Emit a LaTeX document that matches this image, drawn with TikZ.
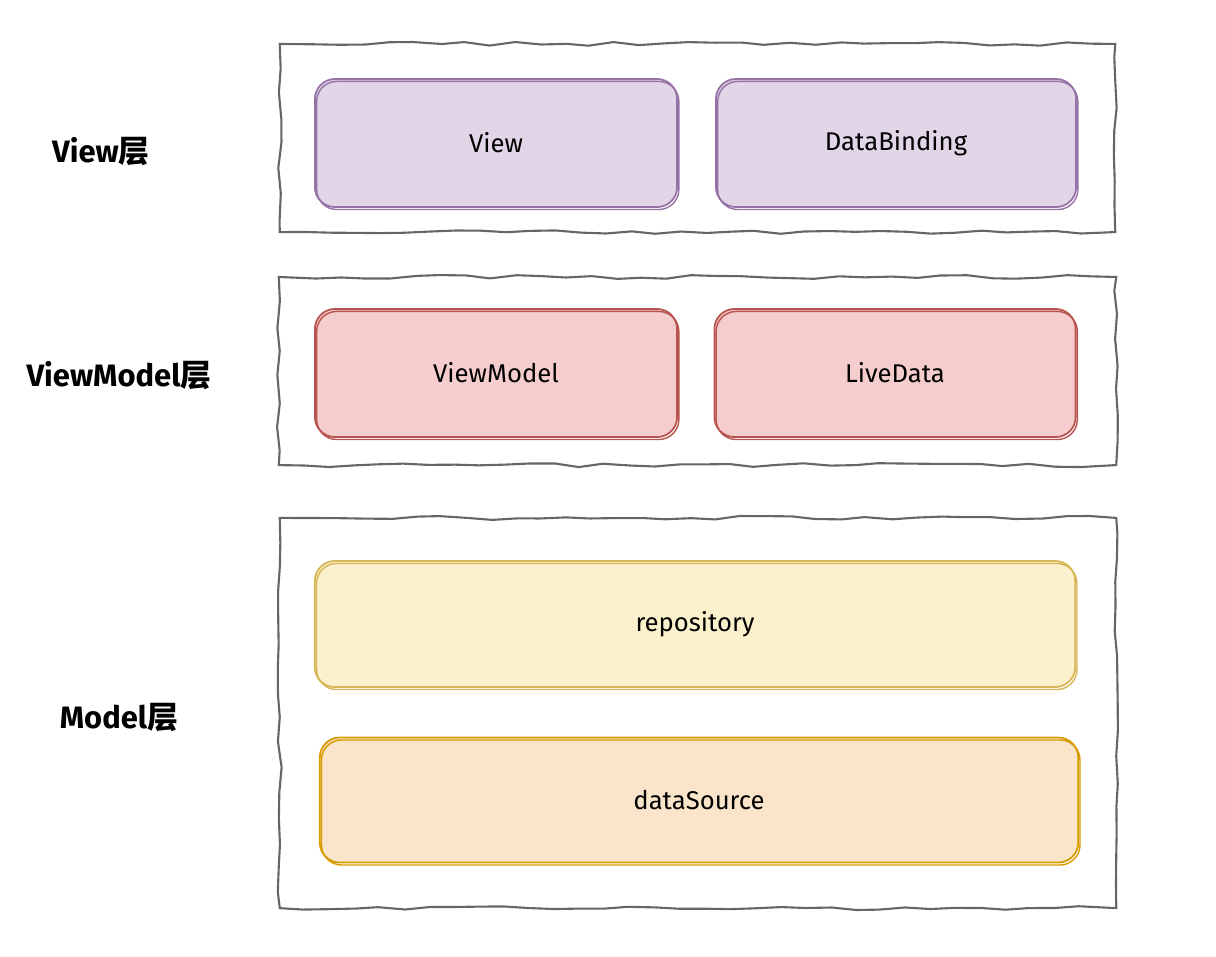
\documentclass[tikz,border=0pt]{standalone}
\usepackage{fontspec}
\setmainfont{Fira Sans}
\newfontfamily\cjk{Noto Sans CJK SC}
\usetikzlibrary{decorations,decorations.pathmorphing}

\definecolor{viewfill}{HTML}{E1D5E7}
\definecolor{viewline}{HTML}{9673A6}
\definecolor{vmfill}{HTML}{F4CDCC}
\definecolor{vmline}{HTML}{B85450}
\definecolor{repofill}{HTML}{FBF1CC}
\definecolor{repoline}{HTML}{D6B656}
\definecolor{dsfill}{HTML}{FAE4CA}
\definecolor{dsline}{HTML}{D79B00}
\definecolor{frameline}{HTML}{666666}

\tikzset{
    layer/.style={draw=frameline, line width=0.6pt, inner sep=0pt, outer sep=0pt,
        decorate, decoration={random steps, segment length=2.5mm, amplitude=0.2mm}},
    block/.style 2 args={fill=#1, draw=#2, line width=0.5pt, rounded corners=2mm,
        inner sep=0pt, outer sep=0pt, font=\fontsize{7.3}{9}\selectfont,
        postaction={draw=#2, line width=0.4pt,
            transform canvas={shift={(0.5pt,-0.7pt)}}}},
    layername/.style={font=\fontsize{8.8}{11}\selectfont\bfseries}
}

\begin{document}
\begin{tikzpicture}[x=0.01cm, y=-0.01cm]
\pgfmathsetseed{11}
\useasboundingbox (0,0) rectangle (1216,956);

    % layer frames
    \node[layer, minimum width=8.35cm, minimum height=1.88cm] (layerview) at (697.5,138) {};
    \node[layer, minimum width=8.37cm, minimum height=1.88cm] (layervm) at (697.5,371) {};
    \node[layer, minimum width=8.36cm, minimum height=3.90cm] (layermodel) at (698,713) {};

    % View layer
    \node[block={viewfill}{viewline}, minimum width=3.62cm, minimum height=1.28cm] (view) at (496,143) {View};
    \node[block={viewfill}{viewline}, minimum width=3.60cm, minimum height=1.28cm] (databinding) at (896,143) {DataBinding};

    % ViewModel layer
    \node[block={vmfill}{vmline}, minimum width=3.62cm, minimum height=1.28cm] (viewmodel) at (496,373) {ViewModel};
    \node[block={vmfill}{vmline}, minimum width=3.61cm, minimum height=1.28cm] (livedata) at (895,373) {LiveData};

    % Model layer
    \node[block={repofill}{repoline}, minimum width=7.60cm, minimum height=1.26cm] (repository) at (695,624) {repository};
    \node[block={dsfill}{dsline}, minimum width=7.58cm, minimum height=1.25cm] (datasource) at (699,800) {dataSource};

    % layer names
    \node[layername] (nameview) at (101,152) {View{\cjk 层}};
    \node[layername] (namevm) at (119,376) {ViewModel{\cjk 层}};
    \node[layername] (namemodel) at (119,717) {Model{\cjk 层}};

\end{tikzpicture}
\end{document}
